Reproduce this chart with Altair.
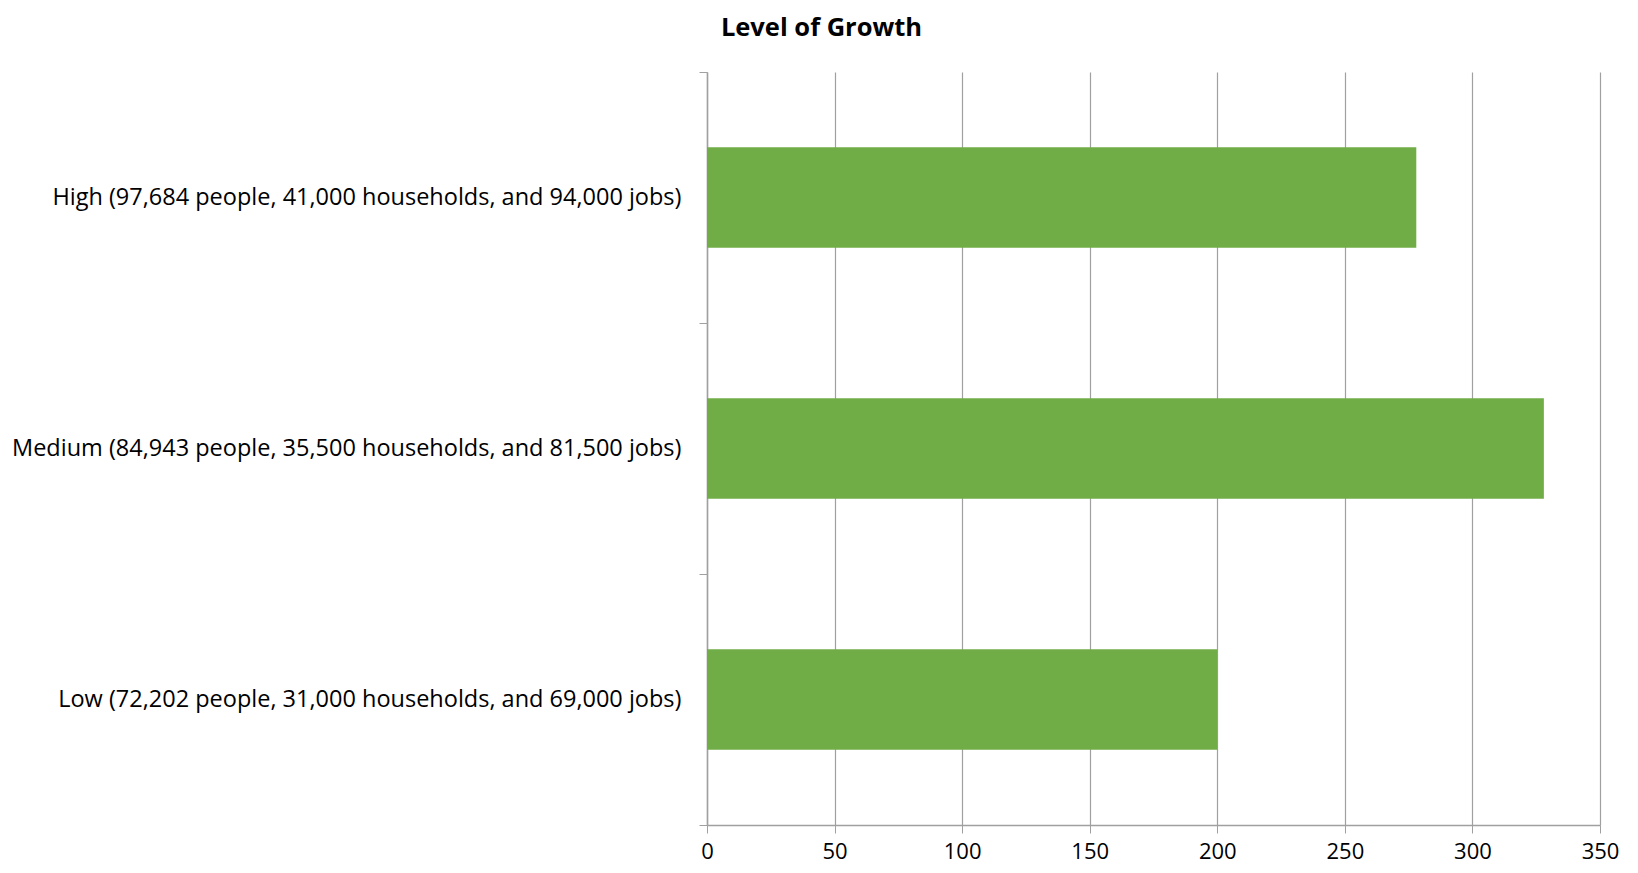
import altair as alt
import pandas as pd

categories = [
    "High (97,684 people, 41,000 households, and 94,000 jobs)",
    "Medium (84,943 people, 35,500 households, and 81,500 jobs)",
    "Low (72,202 people, 31,000 households, and 69,000 jobs)",
]
values = [278, 328, 200]
x_ticks = [0, 50, 100, 150, 200, 250, 300, 350]

df = pd.DataFrame({"category": categories, "value": values})

FONT = "Open Sans"
GRID = "#A0A0A0"

chart = (
    alt.Chart(df)
    .mark_bar(color="#70AD47", height={"band": 0.4})
    .encode(
        x=alt.X(
            "value:Q",
            scale=alt.Scale(domain=[0, 350], nice=False),
            axis=alt.Axis(
                title=None,
                values=x_ticks,
                grid=True,
                gridColor=GRID,
                gridWidth=1.2,
                domainColor=GRID,
                domainWidth=1.5,
                tickColor=GRID,
                tickSize=8,
                labelFont=FONT,
                labelFontSize=22,
                labelColor="#000000",
                labelPadding=8,
                labelFlush=False,
            ),
        ),
        y=alt.Y(
            "category:N",
            sort=categories,
            scale=alt.Scale(paddingInner=0, paddingOuter=0),
            axis=alt.Axis(
                title=None,
                tickBand="extent",
                domainColor=GRID,
                domainWidth=1.5,
                tickColor=GRID,
                tickSize=8,
                labelFont=FONT,
                labelFontSize=23.5,
                labelColor="#000000",
                labelPadding=18,
                labelLimit=900,
            ),
        ),
    )
    .properties(
        width=893,
        height=753,
        autosize=alt.AutoSizeParams(type="none"),
        padding={"left": 699, "top": 64, "right": 30, "bottom": 46},
        title=alt.TitleParams(
            "Level of Growth",
            font=FONT,
            fontSize=25.5,
            fontWeight="bold",
            color="#000000",
            anchor="middle",
            frame="group",
            dx=-332,
            offset=19,
        ),
    )
    .configure_view(stroke=None)
)

chart.save("out.html", embed_options={"renderer": "svg", "actions": False})
